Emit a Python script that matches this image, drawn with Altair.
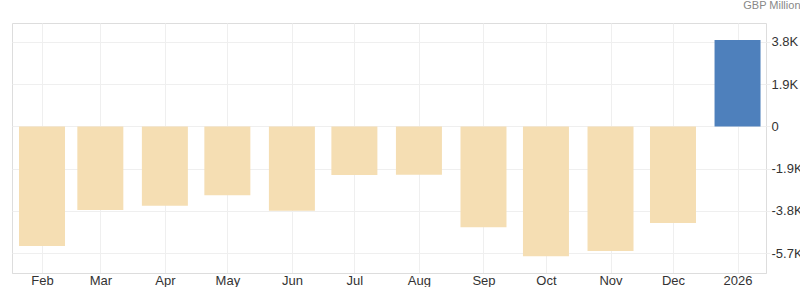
import altair as alt
import pandas as pd

months = ["2025-02-01", "2025-03-01", "2025-04-01", "2025-05-01", "2025-06-01",
          "2025-07-01", "2025-08-01", "2025-09-01", "2025-10-01", "2025-11-01",
          "2025-12-01", "2026-01-01"]
values = [-5380, -3760, -3570, -3100, -3800, -2190, -2180, -4540, -5850, -5610, -4350, 3890]
y_ticks = [-5700, -3800, -1900, 0, 1900, 3800]

df = pd.DataFrame({"date": months, "value": values})

tick_dates = [alt.DateTime(year=int(m[:4]), month=int(m[5:7]), date=1, utc=True) for m in months]

chart = alt.Chart(df).mark_bar(size=46).encode(
    x=alt.X("date:T",
            scale=alt.Scale(type="utc", padding=0,
                            domain=[alt.DateTime(year=2025, month=1, date=17, hours=14, utc=True),
                                    alt.DateTime(year=2026, month=1, date=14, hours=16, utc=True)]),
            axis=alt.Axis(title=None, values=tick_dates, ticks=False,
                          labelExpr="utcFormat(datum.value, '%m') == '01' ? utcFormat(datum.value, '%Y') : utcFormat(datum.value, '%b')",
                          labelFont="Liberation Sans", labelFontSize=13, labelColor="#333333",
                          labelPadding=1, gridColor="#efefef", domainColor="#dddddd",
                          labelFlush=False)),
    y=alt.Y("value:Q",
            scale=alt.Scale(domain=[-6600, 4655], nice=False, zero=False),
            axis=alt.Axis(orient="right", values=y_ticks, title="GBP Million",
                          titleAngle=0, titleAlign="right", titleBaseline="middle",
                          titleX=34, titleY=-18, titleFont="Liberation Sans",
                          titleFontSize=11, titleFontWeight="normal", titleColor="#888888",
                          labelExpr="datum.value == 0 ? '0' : (datum.value < 0 ? '-' : '') + format(abs(datum.value) / 1000, '.1f') + 'K'",
                          labelFont="Liberation Sans", labelFontSize=13, labelColor="#333333",
                          tickSize=4, tickColor="#efefef", labelPadding=1,
                          gridColor="#efefef", domain=False)),
    color=alt.condition(alt.datum.value > 0, alt.value("#4e80bc"), alt.value("#f5deb3")),
).properties(
    width=754, height=250,
    autosize=alt.AutoSizeParams(type="none"),
    padding={"left": 12, "top": 23, "right": 34, "bottom": 14},
).configure_view(stroke="#dddddd")

chart.save("out.html", embed_options={"renderer": "svg", "actions": False})
